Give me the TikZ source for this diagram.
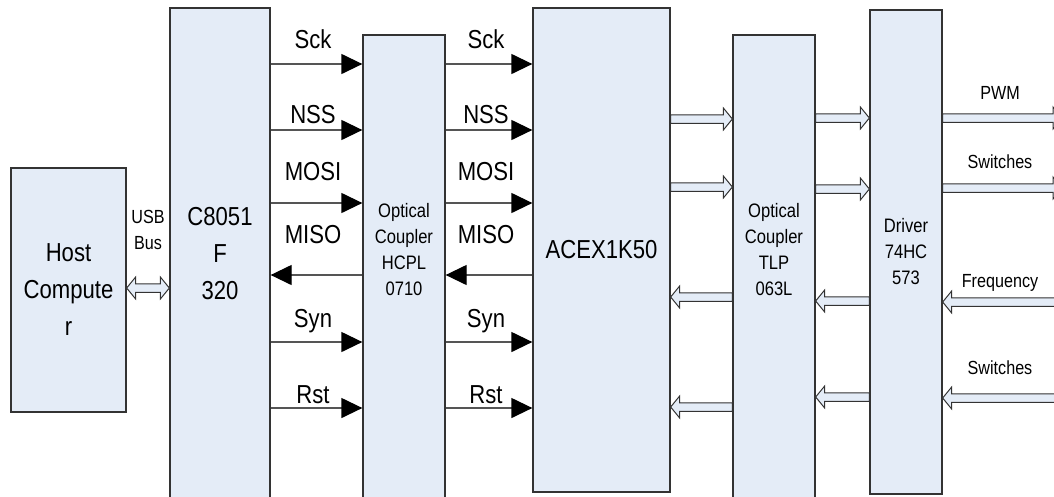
\documentclass[tikz,border=0pt]{standalone}
\usepackage{fontspec}
\setmainfont{Liberation Sans}[FakeStretch=0.85]
\usetikzlibrary{arrows.meta,positioning,calc}
\definecolor{bdInk}{HTML}{333333}
\definecolor{bdWire}{HTML}{555555}
\definecolor{bdFill}{HTML}{E4ECF7}
\tikzset{
  blk/.style    ={draw=bdInk,line width=1.3pt,fill=bdFill,align=center,inner sep=0pt},
  bigtxt/.style ={font=\fontsize{26}{37}\selectfont,align=center},
  midtxt/.style ={font=\fontsize{19.5}{26}\selectfont,align=center},
  sigtxt/.style ={font=\fontsize{26}{30}\selectfont,inner sep=0pt,anchor=base},
  iotxt/.style  ={font=\fontsize{19}{26}\selectfont,inner sep=0pt,align=center},
  wire/.style   ={bdWire,line width=1.3pt,-{Triangle[length=21pt,width=20pt,color=black]}},
  busarr/.style ={draw=bdInk,line width=1pt,fill=bdFill,line join=miter},
}
\begin{document}
\begin{tikzpicture}[x=1pt,y=-1pt]
\clip (0,0) rectangle (1054,496);
%% hollow block arrow from x of #1 to x of #2, at height #3
\newcommand{\busline}[3]{\draw[busarr] let \p1=(#1), \p2=(#2), \n1={sign(\x2-\x1)*9}, \n2={-#3} in
  (\x1,{(\n2+4.25)*1pt}) -- ({\x2-\n1*1pt},{(\n2+4.25)*1pt}) -- ({\x2-\n1*1pt},{(\n2+11)*1pt})
  -- (\x2,{\n2*1pt}) -- ({\x2-\n1*1pt},{(\n2-11)*1pt}) -- ({\x2-\n1*1pt},{(\n2-4.25)*1pt})
  -- (\x1,{(\n2-4.25)*1pt}) -- cycle;}
%% blocks
\node[blk,bigtxt,minimum width=115pt,minimum height=244pt] (host) at (68.5,290) {Host\\Compute\\r};
\node[blk,bigtxt,minimum width=100pt,minimum height=492pt] (mcu) at (220,254) {C8051\\F\\320};
\node[blk,minimum width=82pt,minimum height=465pt] (hcpl) at (404,267.5) {};
\node[blk,bigtxt,minimum width=137pt,minimum height=484pt] (acex) at (601.5,250) {ACEX1K50};
\node[blk,minimum width=82pt,minimum height=465pt] (tlp) at (774,267.5) {};
\node[blk,midtxt,minimum width=72pt,minimum height=484pt] (drv) at (906,252) {Driver\\74HC\\573};
\node[midtxt] (hcpltxt) at (hcpl.center |- acex.center) {Optical\\Coupler\\HCPL\\0710};
\node[midtxt] (tlptxt) at (tlp.center |- acex.center) {Optical\\Coupler\\TLP\\063L};

%% SPI lines
\foreach \r/\t/\b in {64/Sck/48, 130/NSS/123, 203/MOSI/180, 342/Syn/327, 408/Rst/403}
  { \draw[wire] (mcu.east |- 0,\r) -- (hcpl.west |- 0,\r);
    \draw[wire] (hcpl.east |- 0,\r) -- (acex.west |- 0,\r);
    \node[sigtxt] (sa\r) at (313,\b) {\t};
    \node[sigtxt] (sb\r) at (486,\b) {\t}; }
\draw[wire] (hcpl.west |- 0,275) -- (mcu.east |- 0,275);
\draw[wire] (acex.west |- 0,275) -- (hcpl.east |- 0,275);
\node[sigtxt] (sa275) at (313,243) {MISO};
\node[sigtxt] (sb275) at (486,243) {MISO};

%% USB
\draw[busarr] let \p1=(host.east), \p2=(mcu.west), \n2={-288} in
  (\x1,{\n2*1pt}) -- ({\x1+9pt},{(\n2+11)*1pt}) -- ({\x1+9pt},{(\n2+4.25)*1pt})
  -- ({\x2-9pt},{(\n2+4.25)*1pt}) -- ({\x2-9pt},{(\n2+11)*1pt}) -- (\x2,{\n2*1pt})
  -- ({\x2-9pt},{(\n2-11)*1pt}) -- ({\x2-9pt},{(\n2-4.25)*1pt})
  -- ({\x1+9pt},{(\n2-4.25)*1pt}) -- ({\x1+9pt},{(\n2-11)*1pt}) -- cycle;
\node[iotxt] (usb) at (148,230) {USB\\Bus};

%% parallel lines
\foreach \r in {119,187} {\busline{acex.east}{tlp.west}{\r}}
\foreach \r in {297,407} {\busline{tlp.west}{acex.east}{\r}}
\foreach \r in {118,189} {\busline{tlp.east}{drv.west}{\r}}
\foreach \r in {301,397} {\busline{drv.west}{tlp.east}{\r}}

%% outside world
\coordinate (pwm) at (1062,118);
\coordinate (swout) at (1062,188);
\coordinate (freq) at (1064,302);
\coordinate (swin) at (1064,398);
\busline{drv.east}{pwm}{118}
\busline{drv.east}{swout}{188}
\busline{freq}{drv.east}{302}
\busline{swin}{drv.east}{398}
\node[iotxt] (pwmtxt) at (1000,93) {PWM};
\node[iotxt] (swouttxt) at (1000,162) {Switches};
\node[iotxt] (freqtxt) at (1000,283) {Frequency};
\node[iotxt] (swintxt) at (1000,368) {Switches};
\end{tikzpicture}
\end{document}
